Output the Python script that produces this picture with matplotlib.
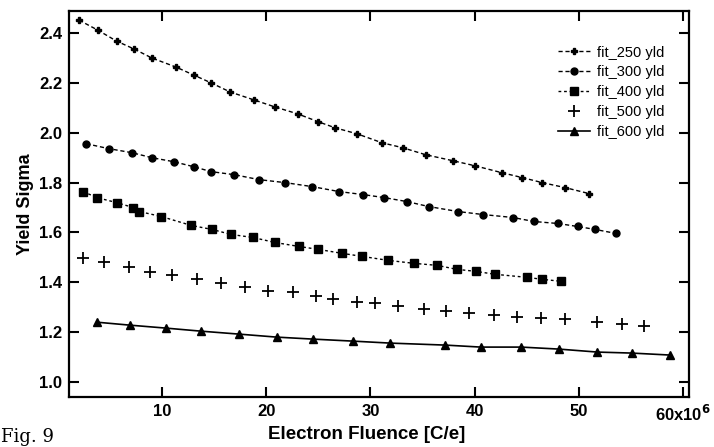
import matplotlib
matplotlib.use("Agg")
import matplotlib.pyplot as plt

# fluence (x10^6 C/e) and yield sigma
x_250 = [2.0, 3.8, 5.6, 7.3, 9.0, 11.3, 13.0, 14.7, 16.5, 18.8, 20.8, 23.0, 25.0, 26.6, 28.7,
         31.1, 33.1, 35.3, 37.9, 40.0, 42.6, 44.6, 46.5, 48.7, 51.0]
y_250 = [2.452, 2.412, 2.368, 2.336, 2.300, 2.264, 2.232, 2.200, 2.164, 2.132, 2.104, 2.076, 2.044, 2.020, 1.996,
         1.960, 1.940, 1.912, 1.888, 1.868, 1.840, 1.820, 1.800, 1.780, 1.756]

x_300 = [2.7, 4.9, 7.1, 9.0, 11.1, 13.0, 14.7, 16.9, 19.3, 21.8, 24.4, 27.0, 29.3, 31.3, 33.5, 35.6,
         38.4, 40.8, 43.7, 45.7, 48.0, 49.9, 51.6, 53.6]
y_300 = [1.956, 1.936, 1.920, 1.900, 1.884, 1.864, 1.844, 1.832, 1.812, 1.800, 1.784, 1.764, 1.752, 1.740,
         1.724, 1.704, 1.684, 1.672, 1.660, 1.644, 1.636, 1.624, 1.612, 1.596]

x_400 = [2.4, 3.7, 5.6, 7.2, 7.8, 9.9, 12.8, 14.8, 16.6, 18.7, 20.8, 23.1, 25.0, 27.3, 29.2, 31.7,
         34.2, 36.4, 38.3, 40.1, 42.0, 45.0, 46.5, 48.3]
y_400 = [1.764, 1.740, 1.720, 1.700, 1.684, 1.664, 1.628, 1.612, 1.592, 1.580, 1.560, 1.544, 1.532, 1.516,
         1.504, 1.488, 1.476, 1.468, 1.452, 1.444, 1.432, 1.420, 1.412, 1.404]

x_500 = [2.4, 4.4, 6.8, 8.8, 10.9, 13.3, 15.6, 17.9, 20.2, 22.6, 24.8, 26.4, 28.7, 30.4, 32.6, 35.1,
         37.3, 39.5, 41.9, 44.1, 46.4, 48.7, 51.8, 54.2, 56.3]
y_500 = [1.496, 1.480, 1.460, 1.440, 1.428, 1.412, 1.396, 1.380, 1.364, 1.360, 1.344, 1.332, 1.320, 1.316,
         1.304, 1.292, 1.284, 1.276, 1.268, 1.260, 1.256, 1.252, 1.240, 1.232, 1.224]

x_600 = [3.7, 6.9, 10.4, 13.7, 17.4, 21.0, 24.5, 28.3, 31.9, 37.2, 40.6, 44.5, 48.1, 51.8, 55.1, 58.8]
y_600 = [1.240, 1.228, 1.216, 1.204, 1.192, 1.180, 1.172, 1.164, 1.156, 1.148, 1.140, 1.140, 1.132,
         1.120, 1.116, 1.108]

x_ticks = [10, 20, 30, 40, 50, 60]
x_ticklabels = ['10', '20', '30', '40', '50', r'60x10$^{\mathbf{6}}$']
y_ticks = [1.0, 1.2, 1.4, 1.6, 1.8, 2.0, 2.2, 2.4]

plt.rcParams['font.family'] = ['Liberation Sans', 'DejaVu Sans']
plt.rcParams['font.weight'] = 'bold'

fig = plt.figure(figsize=(7.14, 4.47), dpi=100)
ax = fig.add_axes([0.097, 0.112, 0.868, 0.863])

ax.plot(x_250, y_250, color='black', linestyle='--', dashes=(3, 2), linewidth=1,
        marker='P', markersize=5, label='fit_250 yld')
ax.plot(x_300, y_300, color='black', linestyle='--', dashes=(3, 2), linewidth=1,
        marker='o', markersize=5, label='fit_300 yld')
ax.plot(x_400, y_400, color='black', linestyle='--', dashes=(2, 2), linewidth=1,
        marker='s', markersize=6, label='fit_400 yld')
ax.plot(x_500, y_500, color='black', linestyle='none',
        marker='+', markersize=9, markeredgewidth=1.3, label='fit_500 yld')
ax.plot(x_600, y_600, color='black', linestyle='-', linewidth=1.2,
        marker='^', markersize=6, label='fit_600 yld')

ax.set_xlim(1.06, 60.6)
ax.set_ylim(0.94, 2.488)
ax.set_xticks(x_ticks)
ax.set_xticklabels(x_ticklabels)
ax.set_yticks(y_ticks)
ax.set_yticklabels(['%.1f' % v for v in y_ticks])

ax.tick_params(direction='in', length=7, width=1.5, labelsize=12,
               top=True, right=True, pad=5)
for s in ax.spines.values():
    s.set_linewidth(1.6)

ax.set_xlabel('Electron Fluence [C/e]', fontsize=13.5, fontweight='bold')
ax.xaxis.set_label_coords(0.48, -0.075)
ax.set_ylabel('Yield Sigma', fontsize=13, fontweight='bold', labelpad=4)

leg = ax.legend(loc='upper right', bbox_to_anchor=(0.982, 0.945), frameon=False,
                prop={'family': ['Liberation Sans Narrow', 'Liberation Sans'], 'size': 10.5, 'weight': 'normal'},
                labelspacing=0.4, handlelength=2.2, handletextpad=0.5)

fig.text(0.002, 0.002, 'Fig. 9', family='serif', fontsize=13, fontweight='normal', va='bottom')

fig.savefig('out.png', dpi=100)
